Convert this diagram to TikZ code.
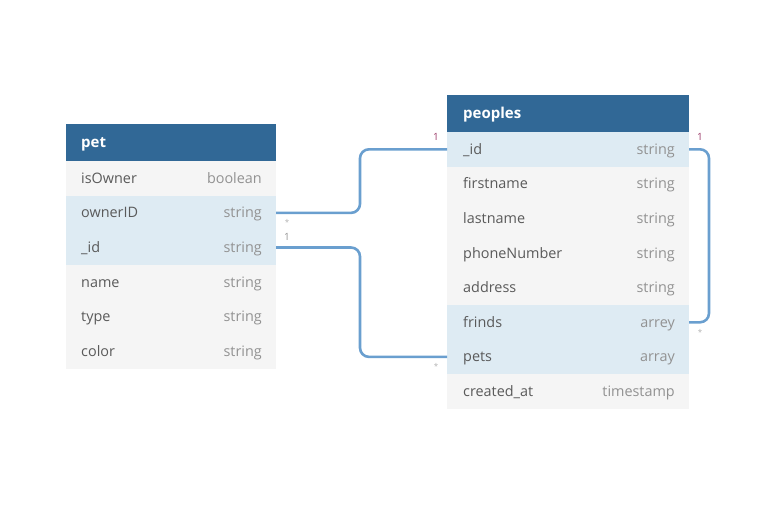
\documentclass[tikz,border=0pt]{standalone}
\usepackage{fontspec}
\setmainfont{Open Sans}
\definecolor{hdrblue}{HTML}{316896}
\definecolor{rowgray}{HTML}{F5F5F5}
\definecolor{keyblue}{HTML}{DEEBF3}
\definecolor{namegray}{HTML}{5A5A5A}
\definecolor{typegray}{HTML}{929292}
\definecolor{linkblue}{HTML}{6A9FCF}
\definecolor{onemag}{HTML}{9B3A68}
\begin{document}
\begin{tikzpicture}[x=1pt, y=-1pt,
	hdr/.style={anchor=north west, fill=hdrblue, inner sep=0pt, outer sep=0pt, minimum height=37pt},
	row/.style={anchor=north west, fill=rowgray, inner sep=0pt, outer sep=0pt, minimum height=34.6pt},
	keyrow/.style={row, fill=keyblue},
	fname/.style={anchor=base west, inner sep=0pt, text=namegray, font=\fontsize{14.4}{17}\selectfont},
	ftype/.style={anchor=base east, inner sep=0pt, text=typegray, font=\fontsize{14.4}{17}\selectfont},
	ttl/.style={anchor=base west, inner sep=0pt, text=white, font=\fontsize{15}{18}\selectfont\bfseries},
	rel/.style={draw=linkblue, line width=2.6pt, rounded corners=9pt},
	card/.style={font=\fontsize{10}{11}\selectfont, text=typegray, inner sep=1pt},
	many/.style={card, font=\fontsize{8}{9}\selectfont, text=typegray!70}]
	\useasboundingbox (0,0) rectangle (776,524);

	% pet table
	\node[hdr, minimum width=210pt] (pet) at (66,124) {};
	\node[ttl] at ([shift={(15pt,-5pt)}]pet.west) {pet};
	\node[row, minimum width=210pt] (pet-isOwner) at (66,161) {};
	\node[keyrow, minimum width=210pt] (pet-ownerID) at (66,195.6) {};
	\node[keyrow, minimum width=210pt] (pet-id) at (66,230.2) {};
	\node[row, minimum width=210pt] (pet-name) at (66,264.8) {};
	\node[row, minimum width=210pt] (pet-type) at (66,299.4) {};
	\node[row, minimum width=210pt] (pet-color) at (66,334) {};
	\node[fname] at ([shift={(15pt,-5pt)}]pet-isOwner.west) {isOwner};
	\node[ftype] at ([shift={(-14pt,-5pt)}]pet-isOwner.east) {boolean};
	\node[fname] at ([shift={(15pt,-5pt)}]pet-ownerID.west) {ownerID};
	\node[ftype] at ([shift={(-14pt,-5pt)}]pet-ownerID.east) {string};
	\node[fname] at ([shift={(15pt,-5pt)}]pet-id.west) {\_id};
	\node[ftype] at ([shift={(-14pt,-5pt)}]pet-id.east) {string};
	\node[fname] at ([shift={(15pt,-5pt)}]pet-name.west) {name};
	\node[ftype] at ([shift={(-14pt,-5pt)}]pet-name.east) {string};
	\node[fname] at ([shift={(15pt,-5pt)}]pet-type.west) {type};
	\node[ftype] at ([shift={(-14pt,-5pt)}]pet-type.east) {string};
	\node[fname] at ([shift={(15pt,-5pt)}]pet-color.west) {color};
	\node[ftype] at ([shift={(-14pt,-5pt)}]pet-color.east) {string};

	% peoples table
	\node[hdr, minimum width=242pt] (ppl) at (447,95) {};
	\node[ttl] at ([shift={(16pt,-5pt)}]ppl.west) {peoples};
	\node[keyrow, minimum width=242pt] (ppl-id) at (447,132) {};
	\node[row, minimum width=242pt] (ppl-firstname) at (447,166.6) {};
	\node[row, minimum width=242pt] (ppl-lastname) at (447,201.2) {};
	\node[row, minimum width=242pt] (ppl-phone) at (447,235.8) {};
	\node[row, minimum width=242pt] (ppl-address) at (447,270.4) {};
	\node[keyrow, minimum width=242pt] (ppl-frinds) at (447,305) {};
	\node[keyrow, minimum width=242pt] (ppl-pets) at (447,339.6) {};
	\node[row, minimum width=242pt] (ppl-created) at (447,374.2) {};
	\node[fname] at ([shift={(16pt,-5pt)}]ppl-id.west) {\_id};
	\node[ftype] at ([shift={(-14pt,-5pt)}]ppl-id.east) {string};
	\node[fname] at ([shift={(16pt,-5pt)}]ppl-firstname.west) {firstname};
	\node[ftype] at ([shift={(-14pt,-5pt)}]ppl-firstname.east) {string};
	\node[fname] at ([shift={(16pt,-5pt)}]ppl-lastname.west) {lastname};
	\node[ftype] at ([shift={(-14pt,-5pt)}]ppl-lastname.east) {string};
	\node[fname] at ([shift={(16pt,-5pt)}]ppl-phone.west) {phoneNumber};
	\node[ftype] at ([shift={(-14pt,-5pt)}]ppl-phone.east) {string};
	\node[fname] at ([shift={(16pt,-5pt)}]ppl-address.west) {address};
	\node[ftype] at ([shift={(-14pt,-5pt)}]ppl-address.east) {string};
	\node[fname] at ([shift={(16pt,-5pt)}]ppl-frinds.west) {frinds};
	\node[ftype] at ([shift={(-14pt,-5pt)}]ppl-frinds.east) {arrey};
	\node[fname] at ([shift={(16pt,-5pt)}]ppl-pets.west) {pets};
	\node[ftype] at ([shift={(-14pt,-5pt)}]ppl-pets.east) {array};
	\node[fname] at ([shift={(16pt,-5pt)}]ppl-created.west) {created\_at};
	\node[ftype] at ([shift={(-14pt,-5pt)}]ppl-created.east) {timestamp};

	% relations
	\draw[rel] (pet-ownerID.east) -- ++(84,0) |- (ppl-id.west);
	\draw[rel] (pet-id.east) -- ++(84,0) |- (ppl-pets.west);
	\draw[rel] (ppl-id.east) -- ++(20,0) |- (ppl-frinds.east);
	\node[many] at ([shift={(11,10)}]pet-ownerID.east) {*};
	\node[card] at ([shift={(11,-11)}]pet-id.east) {1};
	\node[card, text=onemag] at ([shift={(-11,-12)}]ppl-id.west) {1};
	\node[many] at ([shift={(-11,10)}]ppl-pets.west) {*};
	\node[card, text=onemag] at ([shift={(11,-12)}]ppl-id.east) {1};
	\node[many] at ([shift={(11,10)}]ppl-frinds.east) {*};
\end{tikzpicture}
\end{document}
